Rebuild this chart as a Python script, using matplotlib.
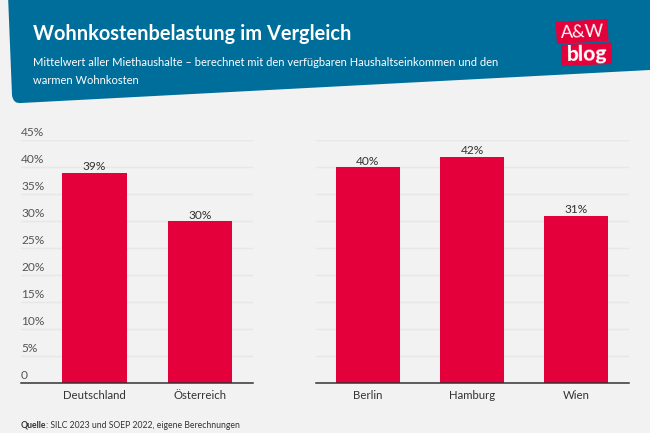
import matplotlib
matplotlib.use("Agg")
import matplotlib.pyplot as plt
from matplotlib.patches import PathPatch, Polygon
from matplotlib.path import Path
from matplotlib.transforms import blended_transform_factory

plt.rcParams['font.family'] = ['Lato', 'DejaVu Sans']

# data
left_labels = ['Deutschland', 'Österreich']
left_values = [39, 30]
right_labels = ['Berlin', 'Hamburg', 'Wien']
right_values = [40, 42, 31]
y_ticks = [0, 5, 10, 15, 20, 25, 30, 35, 40, 45]
y_tick_labels = ['0', '5%', '10%', '15%', '20%', '25%', '30%', '35%', '40%', '45%']

title = 'Wohnkostenbelastung im Vergleich'
subtitle_1 = 'Mittelwert aller Miethaushalte – berechnet mit den verfügbaren Haushaltseinkommen und den'
subtitle_2 = 'warmen Wohnkosten'
source_bold = 'Quelle'
source_rest = ': SILC 2023 und SOEP 2022, eigene Berechnungen'

BG = '#f2f2f2'
BLUE = '#006e9b'
RED = '#e4003a'
GRID = '#e7e7e7'
TEXT = '#333333'

W, H = 650, 433
fig = plt.figure(figsize=(6.5, 4.33), dpi=100, facecolor=BG)

# full figure overlay in pixel coordinates for the header and logo
bg = fig.add_axes([0, 0, 1, 1], zorder=0)
bg.set_xlim(0, W)
bg.set_ylim(H, 0)
bg.axis('off')

verts = [(8, -5), (650, -5), (650, 70), (21, 103), (13, 104), (12, 95), (8, -5)]
codes = [Path.MOVETO, Path.LINETO, Path.LINETO, Path.LINETO, Path.CURVE3, Path.CURVE3, Path.CLOSEPOLY]
bg.add_patch(PathPatch(Path(verts, codes), fc=BLUE, ec='none'))

bg.text(33, 34, title, color='white', fontsize=14.4, fontweight='bold', va='center', ha='left')
bg.text(33, 63, subtitle_1, color='white', fontsize=8.0, va='center', ha='left')
bg.text(33, 80, subtitle_2, color='white', fontsize=8.0, va='center', ha='left')

# logo
bg.add_patch(Polygon([(555.5, 22), (607.5, 19), (608.5, 41), (557, 44)], fc=RED, ec='none'))
bg.add_patch(Polygon([(561, 45), (611.5, 42.5), (612, 64), (561.5, 66)], fc=RED, ec='none'))
bg.text(582.5, 32, 'A&W', color='white', fontsize=13, va='center', ha='center', rotation=2)
bg.text(587, 54.5, 'blog', color='white', fontsize=15, fontweight='black', va='center', ha='center', rotation=1)

# source line
src = bg.text(21, 425, source_bold, color=TEXT, fontsize=6.2, fontweight='bold', va='center', ha='left')
fig.canvas.draw()
bb = src.get_window_extent()
bg.text(21 + bb.width - 1, 425, source_rest, color=TEXT, fontsize=6.2, va='center', ha='left')


def draw_panel(x0, x1, labels, values, xlim, with_ticks):
    ax = fig.add_axes([x0 / W, (H - 383) / H, (x1 - x0) / W, (383 - 140.5) / H], zorder=1)
    ax.patch.set_visible(False)
    xs = list(range(len(labels)))
    ax.bar(xs, values, width=0.61, color=RED, zorder=3)
    ax.set_xlim(*xlim)
    ax.set_ylim(0, 45)
    ax.set_yticks(y_ticks)
    ax.set_yticklabels([])
    ax.tick_params(axis='y', length=0)
    ax.tick_params(axis='x', length=0, pad=5, labelsize=8.2, labelcolor=TEXT)
    ax.set_xticks(xs)
    ax.set_xticklabels(labels)
    ax.grid(axis='y', color=GRID, lw=1, zorder=0)
    for s in ['top', 'left', 'right']:
        ax.spines[s].set_visible(False)
    ax.spines['bottom'].set_color('#333333')
    ax.spines['bottom'].set_linewidth(1.1)
    ax.spines['bottom'].set_zorder(4)
    for x, v in zip(xs, values):
        ax.annotate(str(v) + '%', (x, v), xytext=(0, 0.5), textcoords='offset points',
                    ha='center', va='bottom', fontsize=8.6, color=TEXT)
    if with_ticks:
        tr = blended_transform_factory(ax.transAxes, ax.transData)
        for t, lab in zip(y_ticks, y_tick_labels):
            ax.annotate(lab, (0, t), xycoords=tr, xytext=(0, 1.5), textcoords='offset points',
                        ha='left', va='bottom', fontsize=8.6, color='#555555')
    return ax


draw_panel(21, 253, left_labels, left_values, (-0.697, 1.502), True)
draw_panel(316, 629, right_labels, right_values, (-0.5, 2.51), False)

fig.savefig('out.png', dpi=100, facecolor=BG)
